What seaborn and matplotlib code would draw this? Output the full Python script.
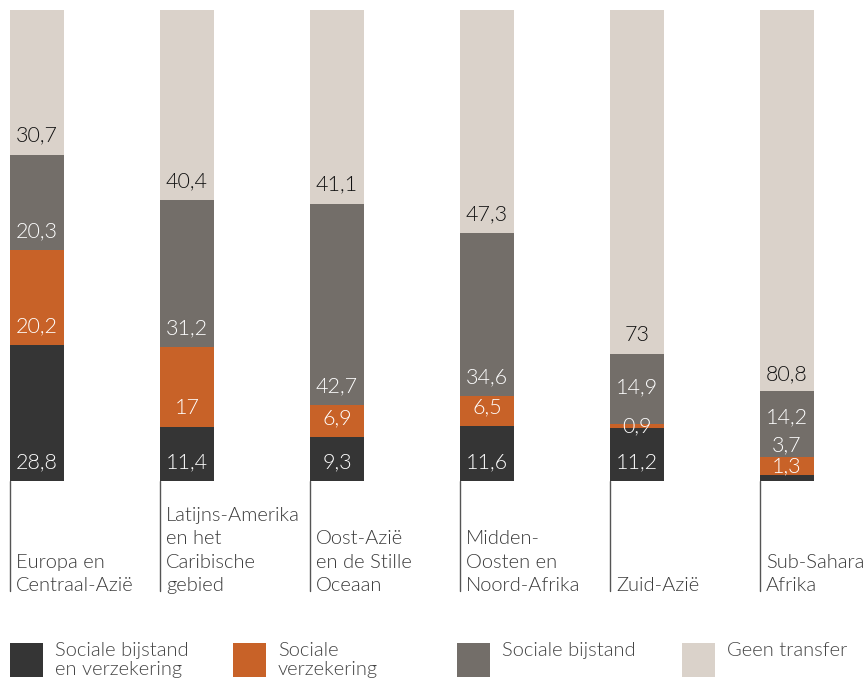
import matplotlib
matplotlib.use("Agg")
import matplotlib.pyplot as plt
import matplotlib.transforms as mtransforms
from matplotlib.patches import Rectangle
import seaborn as sns
import pandas as pd
import numpy as np

categories = ["Europa en\nCentraal-Azië",
              "Latijns-Amerika\nen het\nCaribische\ngebied",
              "Oost-Azië\nen de Stille\nOceaan",
              "Midden-\nOosten en\nNoord-Afrika",
              "Zuid-Azië",
              "Sub-Sahara\nAfrika"]
series_names = ["Sociale bijstand\nen verzekering", "Sociale\nverzekering",
                "Sociale bijstand", "Geen transfer"]
bijstand_en_verzekering = [28.8, 11.4, 9.3, 11.6, 11.2, 1.3]
sociale_verzekering = [20.2, 17.0, 6.9, 6.5, 0.9, 3.7]
sociale_bijstand = [20.3, 31.2, 42.7, 34.6, 14.9, 14.2]
geen_transfer = [30.7, 40.4, 41.1, 47.3, 73.0, 80.8]

colors = ["#353535", "#C86228", "#736E69", "#DAD2CA"]
text_colors = ["white", "white", "white", "#111111"]

sns.set_theme(style="white")
plt.rcParams['font.family'] = ['Lato', 'DejaVu Sans']
FW = 300

W, H = 865, 684
fig = plt.figure(figsize=(W / 100, H / 100), dpi=100)
bar_w_px = 54
pitch = 150
c0 = 37
xl = -c0 / pitch
xr = (W - c0) / pitch
ax = fig.add_axes([0, (H - 481) / H, 1, 471 / H])

series = [bijstand_en_verzekering, sociale_verzekering, sociale_bijstand, geen_transfer]
cum = np.cumsum(np.array(series), axis=0)
idx = list(range(len(categories)))

for k in range(len(series) - 1, -1, -1):
    df = pd.DataFrame({"cat": idx, "val": cum[k]})
    sns.barplot(data=df, x="cat", y="val", color=colors[k], saturation=1,
                width=bar_w_px / pitch, ax=ax, linewidth=0, order=idx)

ax.set_xlim(xl, xr)
ax.set_ylim(0, 100)
ax.axis("off")

# label positions (center height) - default: bottom of segment + 4
label_override = {(4, 1): None, (4, 2): 20.0,
                  (5, 0): 3.2, (5, 1): 7.6, (5, 2): 13.6, (5, 3): 22.7}

def fmt(v):
    s = f"{v:.1f}".replace(".", ",")
    if s.endswith(",0"):
        s = s[:-2]
    return s

for i in idx:
    bottom = 0.0
    for k in range(len(series)):
        v = series[k][i]
        y = bottom + 4.0
        if (i, k) in label_override:
            o = label_override[(i, k)]
            y = bottom + v / 2 if o is None else o
        ax.text(i, y, fmt(v), ha="center", va="center", fontsize=15.5,
                color=text_colors[k], fontweight=FW)
        bottom += v

# category labels with guide lines
trans = mtransforms.blended_transform_factory(ax.transData, ax.transAxes)
y_line_bot = -(591 - 481) / 471
for i, c in enumerate(categories):
    xleft = i - (bar_w_px / 2) / pitch
    ax.plot([xleft, xleft], [0, y_line_bot], transform=trans, color="#555555",
            lw=1.0, clip_on=False)
    ax.text(xleft + 6 / pitch, -(594 - 481) / 471, c, transform=trans,
            ha="left", va="bottom", fontsize=14.5, color="#3a3a3a",
            linespacing=1.45, fontweight=FW)

# legend
leg_x = [10, 233, 457, 682]
for j, name in enumerate(series_names):
    x0 = leg_x[j]
    fig.add_artist(Rectangle((x0 / W, (H - 677) / H), 33 / W, 34 / H,
                             transform=fig.transFigure, color=colors[j], lw=0))
    fig.text((x0 + 45) / W, (H - 642) / H, name, ha="left", va="top",
             fontsize=14.5, color="#444444", linespacing=1.12, fontweight=FW)

fig.savefig("out.png", dpi=100)
